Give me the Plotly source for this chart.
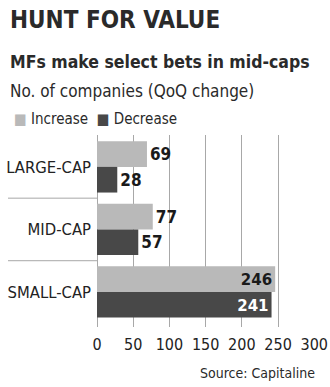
import plotly.graph_objects as go

categories = ["LARGE-CAP", "MID-CAP", "SMALL-CAP"]
increase = [69, 77, 246]
decrease = [28, 57, 241]
x_ticks = [0, 50, 100, 150, 200, 250, 300]

FONT = "DejaVu Sans Condensed"
C_INC = "#b9b9b9"
C_DEC = "#484848"

W, H = 330, 387
L, R, T, B = 97, 15, 135, 60
pw, ph = W - L - R, H - T - B

def px(x):
    return (x - L) / pw

def py(y):
    return (H - B - y) / ph

def positions(vals):
    return ["inside" if v > 200 else "outside" for v in vals]

fig = go.Figure()
fig.add_trace(go.Bar(
    y=categories, x=increase, orientation="h", name="Increase",
    marker=dict(color=C_INC, line=dict(width=0)),
    text=[f"<b>{v}</b>" for v in increase], textposition=positions(increase),
    insidetextanchor="end",
    textfont=dict(family=FONT, size=17, color=["#1a1a1a" for v in increase]),
    cliponaxis=False,
))
fig.add_trace(go.Bar(
    y=categories, x=decrease, orientation="h", name="Decrease",
    marker=dict(color=C_DEC, line=dict(width=0)),
    text=[f"<b>{v}</b>" for v in decrease], textposition=positions(decrease),
    insidetextanchor="end",
    textfont=dict(family=FONT, size=17,
                  color=["#fff" if v > 200 else "#1a1a1a" for v in decrease]),
    cliponaxis=False,
))

fig.update_layout(
    width=W, height=H,
    margin=dict(l=L, r=R, t=T, b=B, pad=0, autoexpand=False),
    paper_bgcolor="white", plot_bgcolor="white",
    barmode="group", bargap=0.18, bargroupgap=0,
    showlegend=False,
    font=dict(family=FONT, color="#222"),
    xaxis=dict(range=[0, 301], tickvals=x_ticks, showgrid=True,
               gridcolor="#a8a8a8", gridwidth=1, zeroline=True,
               zerolinecolor="#a8a8a8", zerolinewidth=1, showline=False,
               ticks="", tickangle=0, automargin=False,
               tickfont=dict(family=FONT, size=16, color="#222"),
               ticklabelstandoff=6),
    yaxis=dict(categoryorder="array", categoryarray=categories,
               range=[2.56, -0.51], showgrid=False, zeroline=False,
               ticks="", automargin=False,
               tickfont=dict(family=FONT, size=16.5, color="#222"),
               ticklabelstandoff=5),
)

# separators between categories (left of axis)
for yv in [0.5, 1.5]:
    fig.add_shape(type="line", xref="paper", yref="y", x0=px(8), x1=0,
                  y0=yv, y1=yv, line=dict(color="#a8a8a8", width=1))

ann = [
    dict(text="<b>HUNT FOR VALUE</b>", x=px(8), y=py(4), size=24, color="#2a2a2a"),
    dict(text="<b>MFs make select bets in mid-caps</b>", x=px(8), y=py(50), size=17.5, color="#2a2a2a"),
    dict(text="No. of companies (QoQ change)", x=px(8), y=py(79), size=17, color="#2a2a2a"),
    dict(text=f'<span style="color:{C_INC}">■</span> Increase  <span style="color:{C_DEC}">■</span> Decrease',
         x=px(12), y=py(108), size=15, color="#2a2a2a"),
]
for a in ann:
    fig.add_annotation(text=a["text"], xref="paper", yref="paper", x=a["x"], y=a["y"],
                       xanchor="left", yanchor="top", showarrow=False,
                       font=dict(family=FONT, size=a["size"], color=a["color"]))

fig.add_annotation(text="Source: Capitaline", xref="paper", yref="paper",
                   x=px(317), y=py(363), xanchor="right", yanchor="top",
                   showarrow=False, font=dict(family=FONT, size=14, color="#2a2a2a"))

fig.write_html("out.html")
